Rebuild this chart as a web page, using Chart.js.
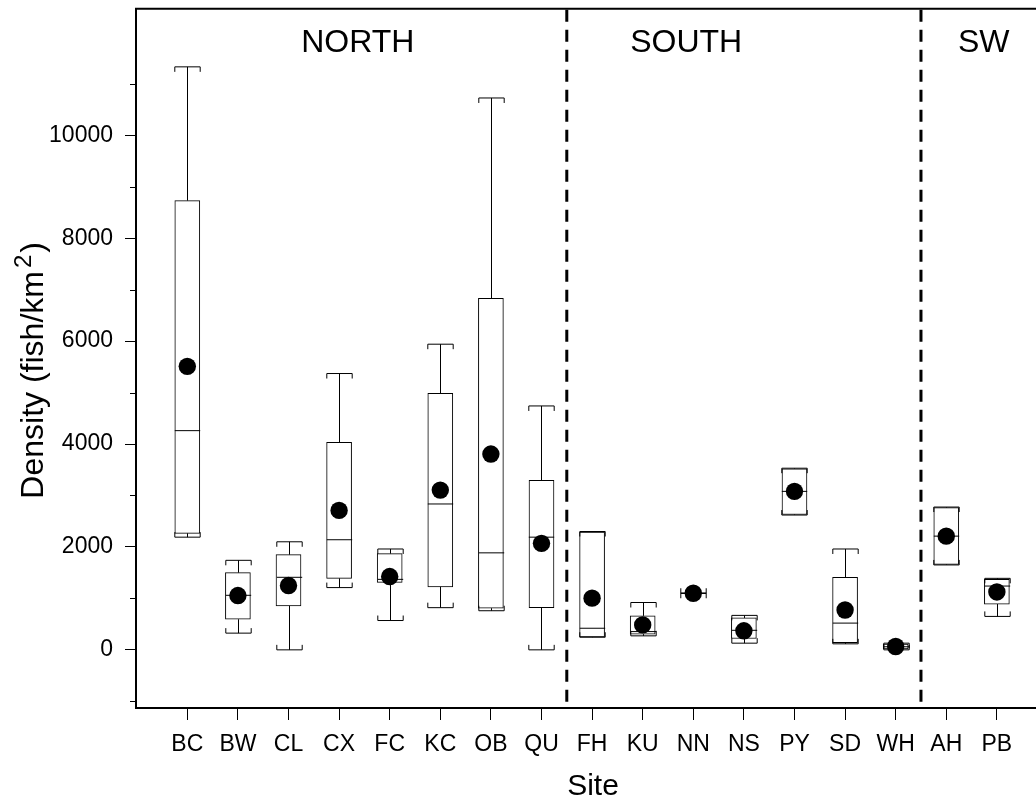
<!DOCTYPE html>
<html><head><meta charset="utf-8">
<script src="https://cdn.jsdelivr.net/npm/chart.js@4.4.0/dist/chart.umd.min.js"></script>
<style>
html,body{margin:0;padding:0;overflow:hidden;background:#fff;width:1036px;height:805px;}
#wrap{position:absolute;left:0;top:0;width:1060px;height:805px;}
</style></head><body>
<div id="wrap"><canvas id="c" width="1060" height="805"></canvas></div>
<script>
// ---- data ----
const sites  = ['BC','BW','CL','CX','FC','KC','OB','QU','FH','KU','NN','NS','PY','SD','WH','AH','PB'];
const minV   = [2190, 325,    0, 1210,  570,  820,   760,    0,  245, 272, 1100, 130, 2620, 117,   0, 1650,  650];
const q1V    = [2265, 595,  855, 1390, 1310, 1225,   810,  820,  250, 305, 1100, 220, 2630, 142,  20, 1660,  890];
const medV   = [4260,1060, 1410, 2140, 1370, 2835,  1885, 2190,  420, 355, 1100, 380, 3080, 520,  60, 2210, 1240];
const q3V    = [8730,1500, 1850, 4035, 1870, 4985,  6830, 3295, 2290, 660, 1100, 620, 3520,1410, 110, 2765, 1370];
const maxV   = [11330,1740,2100, 5370, 1960, 5940, 10725, 4740, 2300, 920, 1100, 670, 3530,1960, 130, 2775, 1390];
const meanV  = [5510,1055, 1250, 2710, 1425, 3105,  3805, 2070, 1005, 485, 1100, 370, 3080, 775,  65, 2210, 1125];
const regionNames  = ['NORTH','SOUTH','SW'];
const regionCenter = [3.37, 9.86, 15.74];
const dividers     = [7.5, 14.5];
const yMajorTicks  = [0, 2000, 4000, 6000, 8000, 10000];
const yMinorTicks  = [-1000, 1000, 3000, 5000, 7000, 9000, 11000];
const yTitleMain = 'Density (fish/km';
const yTitleSup  = '2';
const yTitleEnd  = ')';

const FONT = "'Liberation Sans', Arial, Helvetica, sans-serif";
Chart.defaults.font.family = FONT;
Chart.defaults.color = '#000';

const boxData  = sites.map((s, i) => ({x: i, y: [q1V[i], q3V[i]]}));
const meanData = sites.map((s, i) => ({x: i, y: meanV[i]}));

const BOX_HALF = 12.7, HOOK = 5;

const boxPlugin = {
  id: 'boxplot',
  afterDatasetDraw(chart, args) {
    if (args.index !== 1) return;
    const ctx = chart.ctx, xs = chart.scales.x, ys = chart.scales.y;
    ctx.save();
    ctx.strokeStyle = '#000';
    ctx.lineWidth = 1;
    const seg = (x1, y1, x2, y2) => { ctx.beginPath(); ctx.moveTo(x1, y1); ctx.lineTo(x2, y2); ctx.stroke(); };
    sites.forEach((s, i) => {
      const cx = Math.round(xs.getPixelForValue(i)) + 0.5;
      const pMax = ys.getPixelForValue(maxV[i]);
      const pQ3  = ys.getPixelForValue(q3V[i]);
      const pMed = ys.getPixelForValue(medV[i]);
      const pQ1  = ys.getPixelForValue(q1V[i]);
      const pMin = ys.getPixelForValue(minV[i]);
      seg(cx, pQ3, cx, pMax);
      seg(cx - BOX_HALF, pMax, cx + BOX_HALF, pMax);
      seg(cx - BOX_HALF, pMax, cx - BOX_HALF, pMax + HOOK);
      seg(cx + BOX_HALF, pMax, cx + BOX_HALF, pMax + HOOK);
      seg(cx, pQ1, cx, pMin);
      seg(cx - BOX_HALF, pMin, cx + BOX_HALF, pMin);
      seg(cx - BOX_HALF, pMin, cx - BOX_HALF, pMin - HOOK);
      seg(cx + BOX_HALF, pMin, cx + BOX_HALF, pMin - HOOK);
      seg(cx - BOX_HALF, pMed, cx + BOX_HALF, pMed);
    });
    ctx.restore();
  },
  afterDraw(chart) {
    const ctx = chart.ctx, xs = chart.scales.x, ys = chart.scales.y, a = chart.chartArea;
    ctx.save();
    ctx.strokeStyle = '#000';
    ctx.lineWidth = 2;
    ctx.beginPath(); ctx.moveTo(a.left - 1, a.top); ctx.lineTo(a.right + 20, a.top); ctx.stroke();
    ctx.lineWidth = 1;
    yMinorTicks.forEach(v => {
      const py = Math.round(ys.getPixelForValue(v)) + 0.5;
      ctx.beginPath(); ctx.moveTo(a.left - 6, py); ctx.lineTo(a.left, py); ctx.stroke();
    });
    ctx.lineWidth = 3;
    ctx.setLineDash([12, 8]);
    dividers.forEach(v => {
      const px = xs.getPixelForValue(v);
      ctx.beginPath(); ctx.moveTo(px, a.top + 1); ctx.lineTo(px, a.bottom - 2); ctx.stroke();
    });
    ctx.setLineDash([]);
    ctx.fillStyle = '#000';
    ctx.font = "32px " + FONT;
    ctx.textAlign = 'center';
    ctx.textBaseline = 'alphabetic';
    regionNames.forEach((n, i) => {
      ctx.fillText(n, xs.getPixelForValue(regionCenter[i]), 52);
    });
    // y axis title with a real superscript
    const big = "32px " + FONT, small = "24px " + FONT;
    ctx.font = big; const w1 = ctx.measureText(yTitleMain).width;
    const w3 = ctx.measureText(yTitleEnd).width;
    ctx.font = small; const w2 = ctx.measureText(yTitleSup).width;
    const gap = 3;
    const total = w1 + gap + w2 + 2 + w3;
    const cy = (a.top + a.bottom) / 2 + 12;
    ctx.translate(43, cy);
    ctx.rotate(-Math.PI / 2);
    ctx.textAlign = 'left';
    let x0 = -total / 2;
    ctx.font = big; ctx.fillText(yTitleMain, x0, 0);
    x0 += w1 + gap;
    ctx.font = small; ctx.fillText(yTitleSup, x0, -12);
    x0 += w2 + 2;
    ctx.font = big; ctx.fillText(yTitleEnd, x0, 0);
    ctx.restore();
  }
};

new Chart(document.getElementById('c'), {
  type: 'bar',
  data: {
    datasets: [
      { type: 'scatter', data: meanData, order: 0, pointRadius: 8.7, pointHoverRadius: 8.7,
        backgroundColor: '#000', borderColor: '#000', borderWidth: 0 },
      { type: 'bar', data: boxData, order: 1, barThickness: 25, backgroundColor: '#fff',
        borderColor: '#000', borderWidth: 1, borderSkipped: false }
    ]
  },
  options: {
    responsive: false,
    animation: false,
    devicePixelRatio: 1,
    layout: { padding: { top: 8, right: 10, left: 0, bottom: 0 } },
    plugins: { legend: { display: false }, tooltip: { enabled: false } },
    scales: {
      x: {
        type: 'linear', min: -1.014, max: 17.05, offset: false,
        afterFit: s => { s.height = 97; s.paddingLeft = 0; s.paddingRight = 0; },
        afterBuildTicks: s => { s.ticks = sites.map((n, i) => ({value: i})); },
        ticks: { callback: v => sites[v], font: { size: 23 }, padding: 11, maxRotation: 0, autoSkip: false, color: '#000' },
        grid: { drawOnChartArea: false, drawTicks: true, tickLength: 12, tickColor: '#000', offset: false },
        border: { display: true, color: '#000', width: 2 },
        title: { display: true, text: 'Site', font: { size: 30 }, padding: { top: 0, bottom: 0 }, color: '#000' }
      },
      y: {
        min: -1130, max: 12460,
        afterFit: s => { s.width = 136; s.paddingTop = 0; s.paddingBottom = 0; },
        afterBuildTicks: s => { s.ticks = yMajorTicks.map(v => ({value: v})); },
        ticks: { font: { size: 23 }, padding: 12, color: '#000', callback: v => String(v) },
        grid: { drawOnChartArea: false, drawTicks: true, tickLength: 11, tickColor: '#000' },
        border: { display: true, color: '#000', width: 2 },
        title: { display: false }
      }
    }
  },
  plugins: [boxPlugin]
});
</script>
</body></html>
